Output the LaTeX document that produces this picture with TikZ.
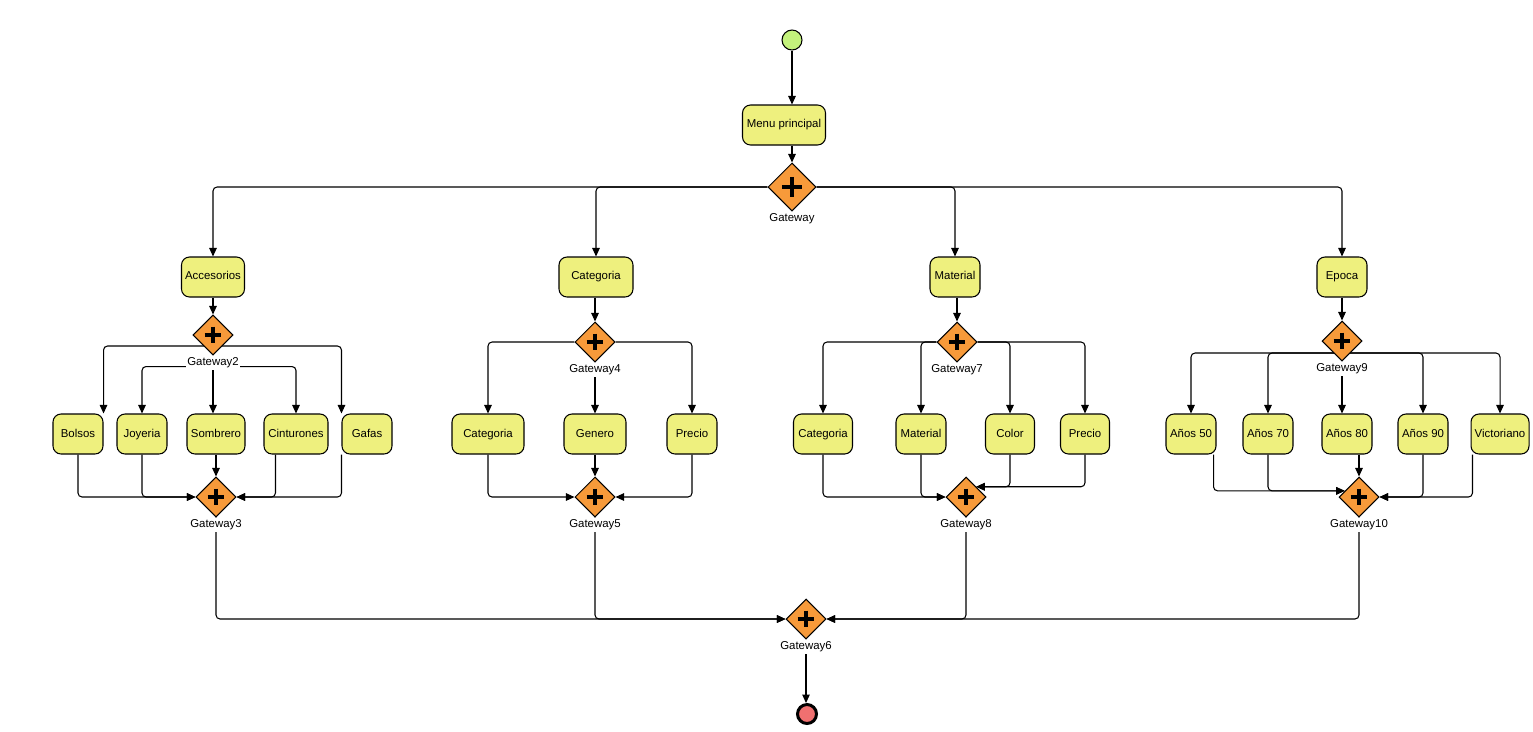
\documentclass[tikz,border=0pt]{standalone}
\usepackage{fontspec}
\setmainfont{Liberation Sans}
\usetikzlibrary{shapes.geometric,arrows.meta,calc,backgrounds}
\usepackage{xcolor}
\definecolor{taskfill}{HTML}{EEF07E}
\definecolor{gatefill}{HTML}{F79A3A}
\definecolor{startfill}{HTML}{C4F27C}
\definecolor{endfill}{HTML}{F07070}
\tikzset{
    task/.style={
        draw,
        line width=0.6pt,
        rounded corners=0.16cm,
        fill=taskfill,
        minimum height=0.8cm,
        inner sep=1pt,
        text height=4.8pt,
        text depth=1.4pt,
        font=\fontsize{6.5}{7.5}\selectfont
    },
    gate/.style={
        diamond,
        draw,
        line width=0.6pt,
        fill=gatefill,
        inner sep=0pt
    },
    gatelabel/.style={
        fill=white,
        inner sep=1pt,
        font=\fontsize{6.5}{7.5}\selectfont
    },
    flow/.style={
        line width=0.6pt,
        rounded corners=0.08cm,
        -{Triangle[length=0.17cm,width=0.15cm]}
    }
}
\newcommand{\task}[5] {
    \node[task,minimum width={#4*0.02cm}] (#1) at ({#2}, {#3}) {#5};
}
\newcommand{\gate}[5] {
    \node[gate,minimum size={#4*0.04cm},label={[gatelabel]below:#5}] (#1) at ({#2}, {#3}) {};
    \draw[line width={0.2*#4*0.02cm}] ($(#1)+({-0.42*#4},0)$) -- ($(#1)+({0.42*#4},0)$)
                                      ($(#1)+(0,{-0.42*#4})$) -- ($(#1)+(0,{0.42*#4})$);
}

\begin{document}
\begin{tikzpicture}[x=0.02cm,y=-0.02cm]
    \useasboundingbox (0,0) rectangle (1533,731);
    % events
    \node[circle,draw,line width=0.6pt,fill=startfill,minimum size=0.4cm] (start) at (792,40) {};
    \node[circle,draw,line width=1.7pt,fill=endfill,minimum size=0.38cm] (finish) at (807,714) {};
    % tasks
    \task{menu}{784}{125}{83}{Menu principal}
    \task{acc}{213}{277}{63}{Accesorios}
    \task{cat}{596}{277}{74}{Categoria}
    \task{mat}{955}{277}{50}{Material}
    \task{epo}{1342}{277}{50}{Epoca}
    \task{bol}{78}{434}{50}{Bolsos}
    \task{joy}{142}{434}{50}{Joyeria}
    \task{som}{216}{434}{58}{Sombrero}
    \task{cin}{296}{434}{64}{Cinturones}
    \task{gaf}{367}{434}{50}{Gafas}
    \task{catB}{488}{434}{72}{Categoria}
    \task{gen}{595}{434}{62}{Genero}
    \task{preB}{692}{434}{50}{Precio}
    \task{catC}{823}{434}{59}{Categoria}
    \task{matC}{921}{434}{50}{Material}
    \task{col}{1010}{434}{49}{Color}
    \task{preC}{1085}{434}{49}{Precio}
    \task{a50}{1191}{434}{50}{Años 50}
    \task{a70}{1268}{434}{50}{Años 70}
    \task{a80}{1347}{434}{50}{Años 80}
    \task{a90}{1423}{434}{50}{Años 90}
    \task{vic}{1500}{434}{58}{Victoriano}
    % gateways
    \gate{gw}{792}{187}{24}{Gateway}
    \gate{gw2}{213}{335}{20}{Gateway2}
    \gate{gw3}{216}{497}{20}{Gateway3}
    \gate{gw4}{595}{342}{20}{Gateway4}
    \gate{gw5}{595}{497}{20}{Gateway5}
    \gate{gw7}{957}{342}{20}{Gateway7}
    \gate{gw8}{966}{497}{20}{Gateway8}
    \gate{gw9}{1342}{341}{20}{Gateway9}
    \gate{gw10}{1359}{497}{20}{Gateway10}
    \gate{gw6}{806}{619}{20}{Gateway6}

    \begin{scope}[on background layer]
        % top
        \draw[flow] (start) -- (start |- menu.north);
        \draw[flow] (start |- menu.south) -- (gw.north);
        \draw[flow] (gw.west) -| (acc.north);
        \draw[flow] (gw.west) -| (cat.north);
        \draw[flow] (gw.east) -| (mat.north);
        \draw[flow] (gw.east) -| (epo.north);
        % accesorios
        \draw[flow] (acc.south) -- (gw2.north);
        \draw[flow] (gw2.center) ++(0,11) -| (bol.north east);
        \draw[flow] (gw2.center) ++(0,11) -| (gaf.north west);
        \draw[flow] (gw2.south) ++(0,11) -| (joy.north);
        \draw[flow] (gw2.south) ++(0,11) -| (cin.north);
        \draw[flow] (gw2.south) -- (gw2.south |- som.north);
        \draw[flow] (bol.south) |- (gw3.west);
        \draw[flow] (joy.south) |- (gw3.west);
        \draw[flow] (som.south) -- (gw3.north);
        \draw[flow] ($(cin.south west)+(12,0)$) |- (gw3.east);
        \draw[flow] (gaf.south west) |- (gw3.east);
        % categoria
        \draw[flow] (gw4.north |- cat.south) -- (gw4.north);
        \draw[flow] (gw4.west) -| (catB.north);
        \draw[flow] (gw4.south) -- (gen.north);
        \draw[flow] (gw4.east) -| (preB.north);
        \draw[flow] (catB.south) |- (gw5.west);
        \draw[flow] (gen.south) -- (gw5.north);
        \draw[flow] (preB.south) |- (gw5.east);
        % material
        \draw[flow] (gw7.north |- mat.south) -- (gw7.north);
        \draw[flow] (gw7.west) -| (catC.north);
        \draw[flow] (gw7.west) -| (matC.north);
        \draw[flow] (gw7.east) -| (col.north);
        \draw[flow] (gw7.east) -| (preC.north);
        \draw[flow] (catC.south) |- (gw8.west);
        \draw[flow] (matC.south) |- (gw8.west);
        \draw[flow] (col.south) |- (gw8.north east);
        \draw[flow] (preC.south) |- (gw8.north east);
        % epoca
        \draw[flow] (epo.south) -- (gw9.north);
        \draw[flow] (gw9.center) ++(0,12) -| (a50.north);
        \draw[flow] (gw9.center) ++(0,12) -| (a70.north);
        \draw[flow] (gw9.center) ++(0,12) -| (a90.north);
        \draw[flow] (gw9.center) ++(0,12) -| (vic.north);
        \draw[flow] (gw9.south) -- (gw9.south |- a80.north);
        \coordinate (gw10in) at ($(gw10.west)!0.3!(gw10.north)$);
        \draw[flow] ($(a50.south east)+(-3,0)$) |- (gw10in);
        \draw[flow] (a70.south) |- (gw10in);
        \draw[flow] (gw10.north |- a80.south) -- (gw10.north);
        \draw[flow] (a90.south) |- (gw10.east);
        \draw[flow] ($(vic.south west)+(2,0)$) |- (gw10.east);
        % bottom
        \draw[flow] (gw3.south) |- (gw6.west);
        \draw[flow] (gw5.south) |- (gw6.west);
        \draw[flow] (gw8.south) |- (gw6.east);
        \draw[flow] (gw10.south) |- (gw6.east);
        \draw[flow] (gw6.south) -- (gw6.south |- finish.north);
    \end{scope}
\end{tikzpicture}
\end{document}
